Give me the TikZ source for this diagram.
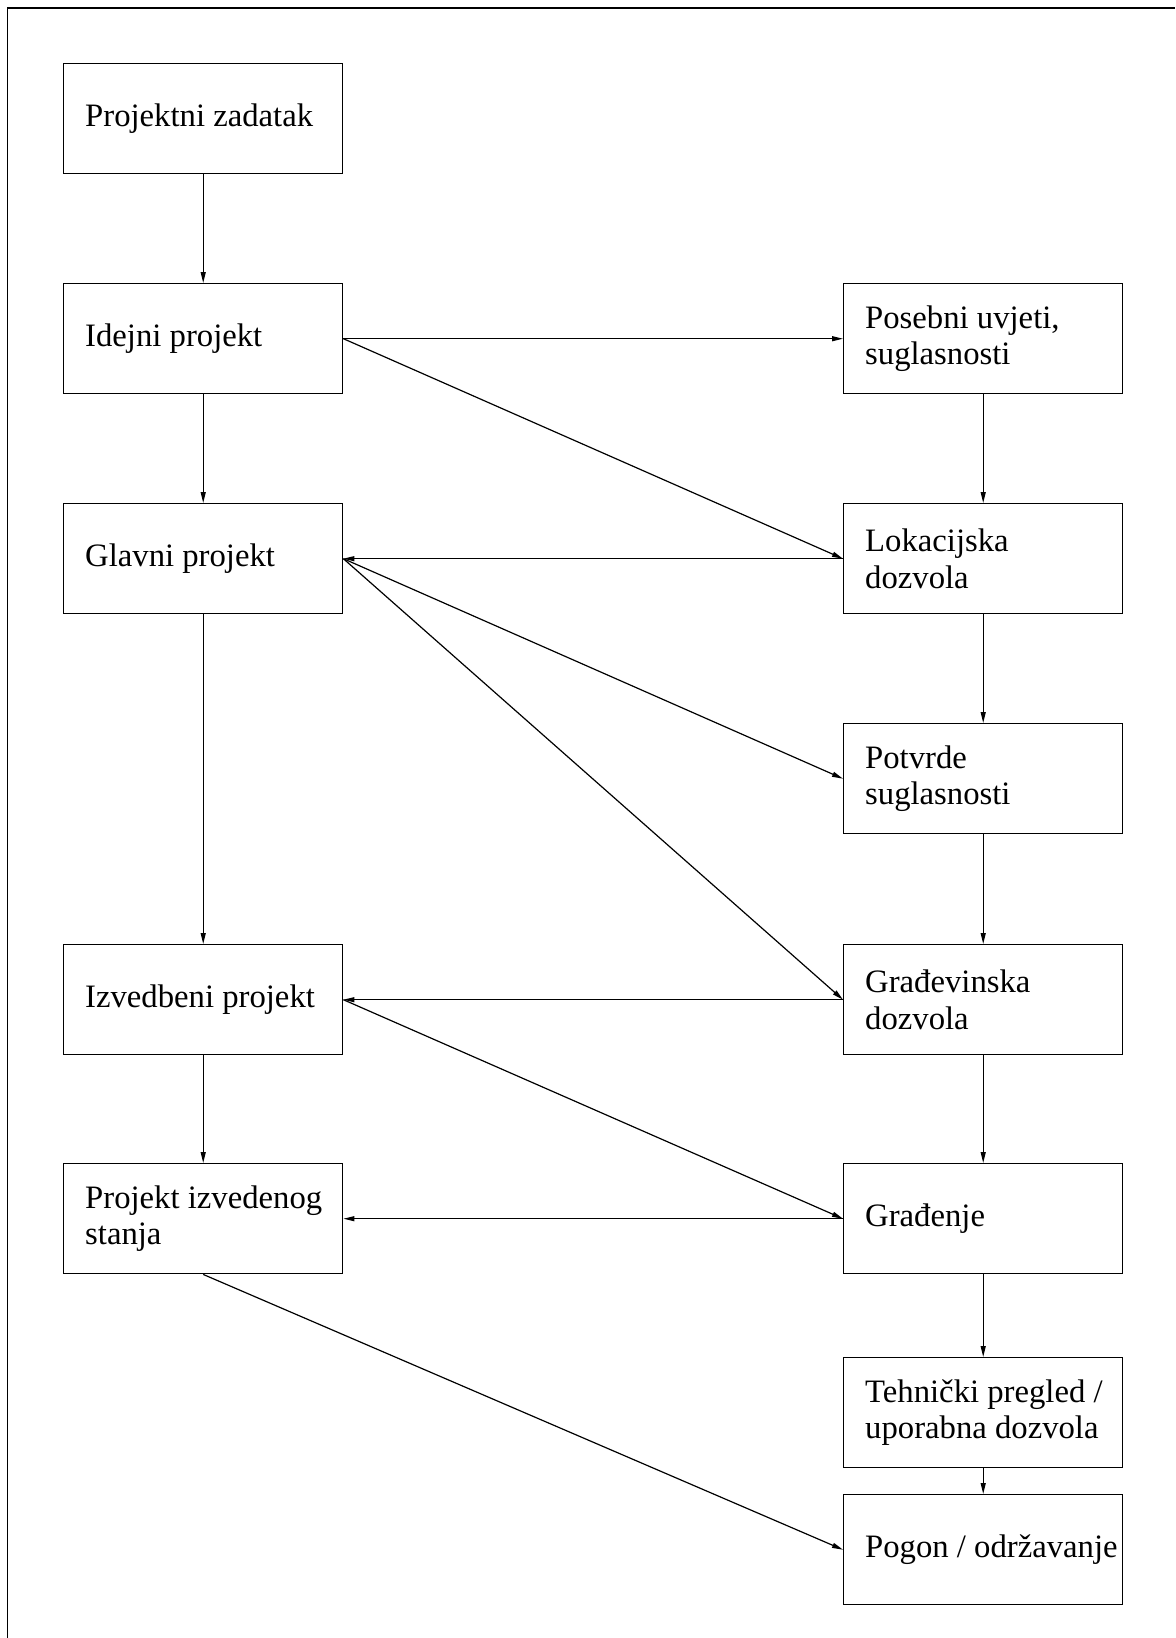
\documentclass[tikz,border=0pt]{standalone}
\usepackage{fontspec}
\setmainfont{Liberation Serif}
\usetikzlibrary{arrows.meta}
\begin{document}
\begin{tikzpicture}[x=1pt,y=-1pt,
  box/.style={draw, line width=1.4pt, minimum width=279pt, minimum height=110pt, inner sep=0pt, anchor=north west},
  txt/.style={anchor=west, inner sep=0pt, align=left, font=\fontsize{32.7}{36.7}\selectfont},
  conn/.style={line width=1.2pt, -{Triangle[length=11pt,width=5pt]}}]
\useasboundingbox (0,0) rectangle (1175,1638);
\draw[line width=1.7pt] (7.5,1638) -- (7.5,8) -- (1175,8);
% left column
\node[box] (pz) at (63,63) {};
\node[box] (ide) at (63,283) {};
\node[box] (gla) at (63,503) {};
\node[box] (izv) at (63,944) {};
\node[box] (pis) at (63,1163) {};
% right column
\node[box] (pos) at (843,283) {};
\node[box] (lok) at (843,503) {};
\node[box] (pot) at (843,723) {};
\node[box] (gdz) at (843,944) {};
\node[box] (gra) at (843,1163) {};
\node[box] (teh) at (843,1357) {};
\node[box] (pog) at (843,1494) {};
% texts
\node[txt] (pz-t) at ([xshift=22pt]pz.west) {Projektni zadatak};
\node[txt] (ide-t) at ([xshift=22pt]ide.west) {Idejni projekt};
\node[txt] (gla-t) at ([xshift=22pt]gla.west) {Glavni projekt};
\node[txt] (izv-t) at ([xshift=22pt]izv.west) {Izvedbeni projekt};
\node[txt] (pis-t) at ([xshift=22pt]pis.west) {Projekt izvedenog\\stanja};
\node[txt] (pos-t) at ([xshift=22pt]pos.west) {Posebni uvjeti,\\suglasnosti};
\node[txt] (lok-t) at ([xshift=22pt]lok.west) {Lokacijska\\dozvola};
\node[txt] (pot-t) at ([xshift=22pt]pot.west) {Potvrde\\suglasnosti};
\node[txt] (gdz-t) at ([xshift=22pt]gdz.west) {Građevinska\\dozvola};
\node[txt] (gra-t) at ([xshift=22pt]gra.west) {Građenje};
\node[txt] (teh-t) at ([xshift=22pt]teh.west) {Tehnički pregled /\\uporabna dozvola};
\node[txt] (pog-t) at ([xshift=22pt]pog.west) {Pogon / održavanje};
% left verticals
\draw[conn] (pz.south) -- (ide.north);
\draw[conn] (ide.south) -- (gla.north);
\draw[conn] (gla.south) -- (izv.north);
\draw[conn] (izv.south) -- (pis.north);
% right verticals
\draw[conn] (pos.south) -- (lok.north);
\draw[conn] (lok.south) -- (pot.north);
\draw[conn] (pot.south) -- (gdz.north);
\draw[conn] (gdz.south) -- (gra.north);
\draw[conn] (gra.south) -- (teh.north);
\draw[conn] (teh.south) -- (pog.north);
% cross connectors
\draw[conn] (ide.east) -- (pos.west);
\draw[conn] (ide.east) -- (lok.west);
\draw[conn] (lok.west) -- (gla.east);
\draw[conn] (gla.east) -- (pot.west);
\draw[conn] (gla.east) -- (gdz.west);
\draw[conn] (gdz.west) -- (izv.east);
\draw[conn] (izv.east) -- (gra.west);
\draw[conn] (gra.west) -- (pis.east);
\draw[conn] (pis.south) -- (pog.west);
\end{tikzpicture}
\end{document}
